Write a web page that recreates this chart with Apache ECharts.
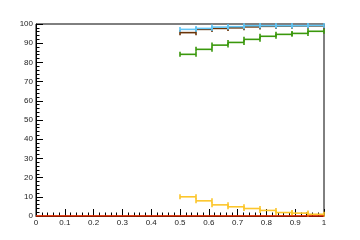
<!DOCTYPE html>
<html>
<head>
<meta charset="utf-8">
<script src="https://cdn.jsdelivr.net/npm/echarts@6/dist/echarts.min.js"></script>
<style>
html,body{margin:0;padding:0;background:#fff;}
#chart{width:360px;height:240px;}
</style>
</head>
<body>
<div id="chart"></div>
<script>
// Bin edges (9 bins between 0.5 and 1)
const binEdges = [0.5, 0.5556, 0.6111, 0.6667, 0.7222, 0.7778, 0.8333, 0.8889, 0.9444, 1.0];
// Series values per bin
const blueValues   = [97.2, 97.7, 98.4, 98.6, 99.1, 99.1, 99.1, 99.1, 99.2];
const brownValues  = [95.5, 97.2, 97.7, 98.0, 98.5, 98.8, 98.9, 99.0, 99.0];
const greenValues  = [84.2, 86.8, 89.0, 90.4, 92.0, 93.6, 94.6, 95.1, 96.2];
const yellowValues = [10.0, 7.9, 5.8, 4.8, 3.9, 2.9, 1.8, 1.5, 0.9];
// Red flat series over the full range
const redX = [0, 1];
const redValues = [0, 0];
// Tick labels
const xTicks = [0, 0.1, 0.2, 0.3, 0.4, 0.5, 0.6, 0.7, 0.8, 0.9, 1];
const yTicks = [0, 10, 20, 30, 40, 50, 60, 70, 80, 90, 100];

function histSeries(name, values, color, lw, z) {
  return {
    name: name,
    type: 'custom',
    z: z,
    data: values.map((v, i) => [binEdges[i], binEdges[i + 1], v]),
    encode: { x: [0, 1], y: 2 },
    renderItem: function (params, api) {
      const x0 = api.value(0), x1 = api.value(1), v = api.value(2);
      const p0 = api.coord([x0, v]);
      const p1 = api.coord([x1, v]);
      const c = 2.5;
      const st = { stroke: color, lineWidth: lw };
      return {
        type: 'group',
        children: [
          { type: 'line', shape: { x1: p0[0], y1: p0[1], x2: p1[0], y2: p1[1] }, style: st },
          { type: 'line', shape: { x1: p0[0], y1: p0[1] - c, x2: p0[0], y2: p0[1] + c }, style: st },
          { type: 'line', shape: { x1: p1[0], y1: p1[1] - c, x2: p1[0], y2: p1[1] + c }, style: st }
        ]
      };
    }
  };
}

const chart = echarts.init(document.getElementById('chart'), null, { renderer: 'canvas' });
const labelStyle = { fontFamily: 'Liberation Sans, Arial, sans-serif', fontSize: 8, color: '#222' };
chart.setOption({
  animation: false,
  backgroundColor: '#fff',
  grid: { left: 36, right: 36, top: 24, bottom: 24, show: true, borderColor: '#000', borderWidth: 1, backgroundColor: 'transparent' },
  xAxis: {
    type: 'value', min: xTicks[0], max: xTicks[xTicks.length - 1], interval: 0.1,
    axisLine: { show: true, lineStyle: { color: '#000', width: 1 } },
    axisTick: { show: true, inside: true, length: 7, lineStyle: { color: '#000', width: 1 } },
    minorTick: { show: true, splitNumber: 5, length: 3.5, lineStyle: { color: '#000', width: 1 } },
    splitLine: { show: false },
    axisLabel: Object.assign({ margin: 3, formatter: v => String(+v.toFixed(1)) }, labelStyle)
  },
  yAxis: {
    type: 'value', min: yTicks[0], max: yTicks[yTicks.length - 1], interval: 10,
    axisLine: { show: true, lineStyle: { color: '#000', width: 1 } },
    axisTick: { show: true, inside: true, length: 7, lineStyle: { color: '#000', width: 1 } },
    minorTick: { show: true, splitNumber: 5, length: 3.5, lineStyle: { color: '#000', width: 1 } },
    splitLine: { show: false },
    axisLabel: Object.assign({ margin: 3 }, labelStyle)
  },
  series: [
    histSeries('yellow', yellowValues, '#fcc62c', 1.6, 3),
    histSeries('green', greenValues, '#3a980c', 1.6, 4),
    histSeries('brown', brownValues, '#6a3408', 1.6, 5),
    histSeries('blue', blueValues, '#62c6f6', 1.6, 6),
    {
      name: 'red', type: 'line', z: 7, symbol: 'none',
      data: redX.map((x, i) => [x, redValues[i]]),
      lineStyle: { color: '#ff3200', width: 1.6 }
    }
  ]
});
</script>
</body>
</html>
